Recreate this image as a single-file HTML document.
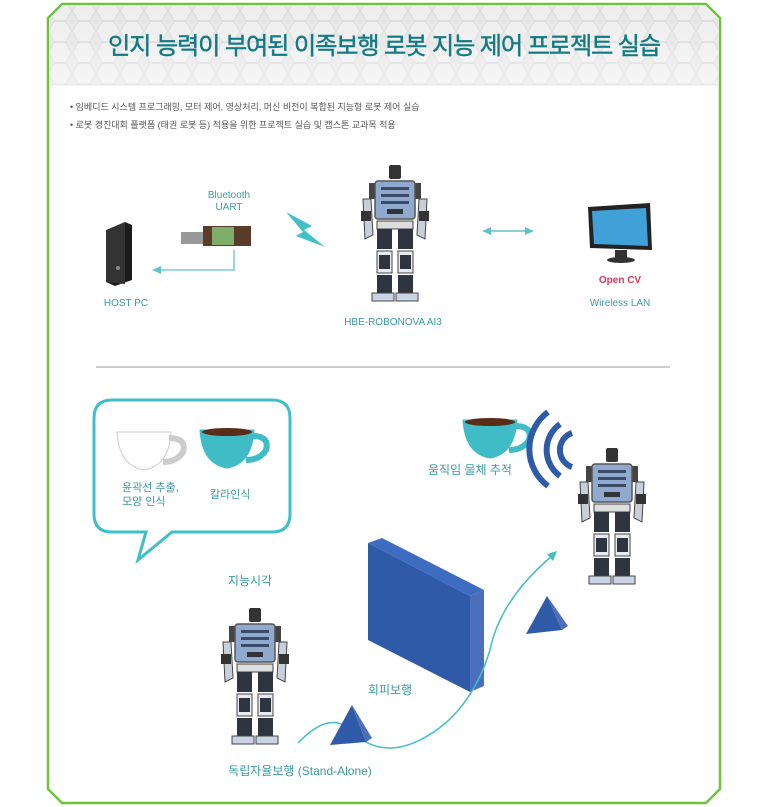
<!DOCTYPE html>
<html><head><meta charset="utf-8"><style>
html,body{margin:0;padding:0;background:#fff;}
svg{display:block;font-family:"Liberation Sans","Noto Sans CJK KR",sans-serif;}
</style></head><body>
<svg width="768" height="807" viewBox="0 0 768 807" xmlns="http://www.w3.org/2000/svg">
<defs>
<pattern id="hex" width="24" height="21" patternUnits="userSpaceOnUse">
<rect width="24" height="21" fill="#e2e2e2"/>
<path d="M6 0.5 L18 0.5 L23.5 10.5 L18 20.5 L6 20.5 L0.5 10.5Z" fill="#ececec" stroke="#d6d6d6" stroke-width="1"/>
</pattern>
<linearGradient id="hg" x1="0" y1="0" x2="0" y2="1"><stop offset="0" stop-color="#fff" stop-opacity="0.1"/><stop offset="1" stop-color="#fff" stop-opacity="0.5"/></linearGradient>
<g id="robot">
<rect x="44" y="0" width="12" height="14" rx="2" fill="#333"/>
<rect x="24" y="18" width="14" height="16" fill="#444"/><rect x="62" y="18" width="14" height="16" fill="#444"/>
<rect x="30" y="16" width="40" height="38" rx="3" fill="#8fa9cf" stroke="#555" stroke-width="1.5"/>
<rect x="36" y="22" width="28" height="3" fill="#3b4a66"/><rect x="36" y="29" width="28" height="3" fill="#3b4a66"/><rect x="36" y="36" width="28" height="3" fill="#3b4a66"/><rect x="42" y="44" width="16" height="5" fill="#333"/>
<path d="M18 34 L26 34 L28 70 L20 74Z" fill="#c9cfd8" stroke="#444"/><path d="M74 34 L82 34 L80 74 L72 70Z" fill="#c9cfd8" stroke="#444"/>
<rect x="16" y="46" width="10" height="10" fill="#333"/><rect x="74" y="46" width="10" height="10" fill="#333"/>
<rect x="32" y="56" width="36" height="8" fill="#ddd" stroke="#444"/>
<rect x="32" y="64" width="15" height="20" fill="#2e3440"/><rect x="53" y="64" width="15" height="20" fill="#2e3440"/>
<rect x="32" y="86" width="15" height="22" fill="#e8ecf2" stroke="#444"/><rect x="53" y="86" width="15" height="22" fill="#e8ecf2" stroke="#444"/>
<rect x="34" y="90" width="11" height="14" fill="#2e3440"/><rect x="55" y="90" width="11" height="14" fill="#2e3440"/>
<rect x="32" y="110" width="15" height="18" fill="#2e3440"/><rect x="53" y="110" width="15" height="18" fill="#2e3440"/>
<rect x="27" y="128" width="22" height="8" fill="#c9d3e3" stroke="#444"/><rect x="51" y="128" width="22" height="8" fill="#c9d3e3" stroke="#444"/>
</g>
<g id="cup">
<path d="M0 0 L54 0 Q52 34 27 38 Q2 34 0 0Z"/>
<path d="M52 6 Q70 6 66 20 Q60 30 46 30" fill="none" stroke-width="6"/>
</g>
</defs>
<path d="M62 4 L706 4 L720 18 L720 789 L706 803 L62 803 L48 789 L48 18Z" fill="#fff" stroke="#6fc23c" stroke-width="2.5"/>
<path d="M63 6 L705 6 L718 19 L718 86 L50 86 L50 19Z" fill="url(#hex)"/>
<path d="M63 6 L705 6 L718 19 L718 86 L50 86 L50 19Z" fill="url(#hg)"/>
<text x="384" y="54" text-anchor="middle" font-size="24" fill="#127a83" stroke="#127a83" stroke-width="0.4" letter-spacing="-1.2" textLength="552" lengthAdjust="spacingAndGlyphs">인지 능력이 부여된 이족보행  로봇 지능 제어 프로젝트 실습</text>
<text x="70" y="110" font-size="9" fill="#555">•  임베디드 시스템 프로그래밍, 모터 제어, 영상처리, 머신 비전이 복합된 지능형 로봇 제어 실습</text>
<text x="70" y="128" font-size="9" fill="#555">•  로봇 경진대회 플랫폼 (태권 로봇 등) 적용을 위한 프로젝트 실습 및 캡스톤 교과목 적용</text>
<path d="M108 230 L125 222 L132 225 L132 280 L115 286 L106 282Z" fill="#1b1b1b"/><path d="M106 230 L125 222 L125 284 L106 282Z" fill="#333"/>
<circle cx="118" cy="268" r="2" fill="#888"/>
<text x="126" y="306" text-anchor="middle" font-size="10" fill="#3a9aa6">HOST PC</text>
<text x="229" y="198" text-anchor="middle" font-size="10" fill="#3a9aa6">Bluetooth</text>
<text x="229" y="210" text-anchor="middle" font-size="10" fill="#3a9aa6">UART</text>
<rect x="181" y="232" width="22" height="12" fill="#999"/><rect x="203" y="226" width="48" height="20" fill="#5a3c2a"/><rect x="212" y="227" width="22" height="18" fill="#7fae6a"/>
<polyline points="234,250 234,270 160,270" fill="none" stroke="#5ec3cc" stroke-width="1.3"/>
<path d="M152 270 L161 266 L161 274Z" fill="#5ec3cc"/>
<path d="M286 212 L312 226 L304 230 L325 247 L296 236 L303 232Z" fill="#3fc0c8"/>
<use href="#robot" x="345" y="165"/>
<text x="393" y="325" text-anchor="middle" font-size="10" fill="#3a9aa6">HBE-ROBONOVA AI3</text>
<line x1="490" y1="231" x2="526" y2="231" stroke="#5ec3cc" stroke-width="1.5"/>
<path d="M482 231 L491 227 L491 235Z M534 231 L525 227 L525 235Z" fill="#5ec3cc"/>
<path d="M588 207 L650 203 L652 250 L590 248Z" fill="#222"/><path d="M592 211 L646 208 L648 246 L594 244Z" fill="#3fa1d8"/>
<rect x="615" y="250" width="12" height="8" fill="#333"/><ellipse cx="621" cy="260" rx="14" ry="3" fill="#333"/>
<text x="620" y="283" text-anchor="middle" font-size="10" font-weight="bold" fill="#e0345a">Open CV</text>
<text x="620" y="306" text-anchor="middle" font-size="10" fill="#3a9aa6">Wireless LAN</text>
<line x1="96" y1="367" x2="670" y2="367" stroke="#999" stroke-width="1"/>
<path d="M112 400 L272 400 Q290 400 290 418 L290 514 Q290 532 272 532 L172 532 L138 560 L146 532 L112 532 Q94 532 94 514 L94 418 Q94 400 112 400Z" fill="#fff" stroke="#3fc0c8" stroke-width="3"/>
<use href="#cup" x="117" y="432" fill="#fff" stroke="#ccc" stroke-width="1"/>
<use href="#cup" x="200" y="430" fill="#3fbcc6" stroke="#3fbcc6"/>
<ellipse cx="227" cy="432" rx="25" ry="4" fill="#5a2d18"/>
<text x="122" y="491" font-size="11" fill="#3a9aa6">윤곽선 추출,</text>
<text x="122" y="505" font-size="11" fill="#3a9aa6">모양 인식</text>
<text x="210" y="498" font-size="11" fill="#3a9aa6">칼라인식</text>
<text x="250" y="585" text-anchor="middle" font-size="12" fill="#3a9aa6">지능시각</text>
<use href="#robot" x="205" y="608"/>
<text x="300" y="775" text-anchor="middle" font-size="12" fill="#3a9aa6">독립자율보행 (Stand-Alone)</text>
<path d="M368 543 L470 596 L470 692 L368 640Z" fill="#2f5aa8"/><path d="M368 543 L382 538 L484 590 L470 596Z" fill="#3d6cc0"/><path d="M470 596 L484 590 L484 686 L470 692Z" fill="#4b6fbd"/>
<text x="390" y="694" text-anchor="middle" font-size="12" fill="#3a9aa6">회피보행</text>
<path d="M298 743 Q330 710 350 730 Q380 760 420 740 Q470 715 490 650 Q500 600 552 556" fill="none" stroke="#3fc0c8" stroke-width="1.5"/>
<path d="M557 551 L547 554 L553 561Z" fill="#3fc0c8"/>
<path d="M330 745 L352 705 L366 742Z" fill="#2f5aa8"/><path d="M352 705 L366 742 L372 738Z" fill="#4b6fbd"/>
<path d="M526 634 L547 596 L562 630Z" fill="#2f5aa8"/><path d="M547 596 L562 630 L568 626Z" fill="#4b6fbd"/>
<use href="#cup" x="463" y="420" fill="#3fbcc6" stroke="#3fbcc6"/>
<ellipse cx="490" cy="422" rx="25" ry="4" fill="#5a2d18"/>
<text x="470" y="474" text-anchor="middle" font-size="12" fill="#3a9aa6">움직임 물체 추적</text>
<g fill="none" stroke="#2f5aa8" stroke-width="6">
<path d="M572 467 A18 18 0 0 1 572 433"/><path d="M560 476 A32 32 0 0 1 560 424"/><path d="M548 486 A46 46 0 0 1 548 412"/>
</g>
<use href="#robot" x="562" y="448"/>
</svg>
</body></html>
